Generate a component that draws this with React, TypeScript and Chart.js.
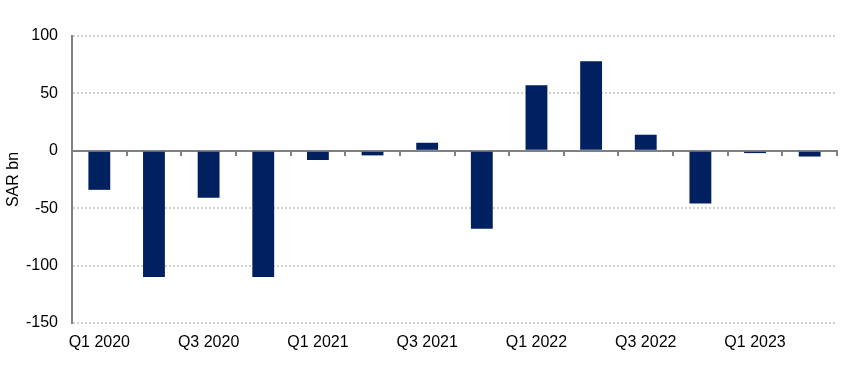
import React, { useEffect, useRef } from "react";
import { Chart, registerables } from "chart.js";

Chart.register(...registerables);

const quarters = [
  "Q1 2020", "Q2 2020", "Q3 2020", "Q4 2020",
  "Q1 2021", "Q2 2021", "Q3 2021", "Q4 2021",
  "Q1 2022", "Q2 2022", "Q3 2022", "Q4 2022",
  "Q1 2023", "Q2 2023",
];
const balance = [-34, -110, -41, -110, -8, -4, 7, -68, 57, 78, 14, -46, -2, -5];
const yMin = -150;
const yMax = 100;
const yStep = 50;
const yTitle = "SAR bn";

const FONT = "'Liberation Sans', Arial, Helvetica, sans-serif";

export default function App() {
  const ref = useRef<HTMLCanvasElement | null>(null);

  useEffect(() => {
    if (!ref.current) return;
    const chart = new Chart(ref.current, {
      type: "bar",
      data: {
        labels: quarters,
        datasets: [
          {
            data: balance,
            backgroundColor: "#002060",
            borderWidth: 0,
            barPercentage: 0.4,
            categoryPercentage: 1,
            xAxisID: "x",
          },
        ],
      },
      options: {
        animation: false,
        responsive: false,
        maintainAspectRatio: false,
        layout: { padding: { left: 0, right: 18, top: 36, bottom: 0 } },
        plugins: { legend: { display: false }, tooltip: { enabled: false } },
        scales: {
          x: {
            type: "category",
            position: "bottom",
            offset: true,
            grid: { display: false, drawTicks: false },
            border: { display: false },
            ticks: {
              autoSkip: false,
              maxRotation: 0,
              padding: 10,
              color: "#000",
              font: { family: FONT, size: 16 },
              callback: (_v: any, i: number) => (i % 2 === 0 ? quarters[i] : ""),
            },
            afterFit: (s: any) => {
              s.height = 52;
            },
          },
          x2: {
            type: "category",
            axis: "x",
            position: { y: 0 },
            offset: true,
            z: 1,
            grid: {
              display: true,
              offset: true,
              drawOnChartArea: false,
              drawTicks: true,
              tickLength: 4,
              color: "#808080",
              lineWidth: 2,
            },
            border: { display: true, color: "#808080", width: 2 },
            ticks: { display: false },
          },
          y: {
            min: yMin,
            max: yMax,
            ticks: {
              stepSize: yStep,
              padding: 14,
              color: "#000",
              font: { family: FONT, size: 16 },
            },
            grid: {
              color: "#d0d0d0",
              lineWidth: 2,
              drawTicks: false,
            },
            border: { display: true, color: "#808080", width: 2, dash: [2, 2] },
            title: {
              display: true,
              text: yTitle,
              color: "#000",
              font: { family: FONT, size: 16 },
              padding: { top: 4, bottom: 0 },
            },
            afterFit: (s: any) => {
              s.width = 72;
            },
          },
        },
      },
    });
    return () => chart.destroy();
  }, []);

  return (
    <div style={{ position: "fixed", left: 0, top: 0, width: 855, height: 375, background: "#fff" }}>
      <canvas ref={ref} width={855} height={375} style={{ width: 855, height: 375 }} />
    </div>
  );
}
